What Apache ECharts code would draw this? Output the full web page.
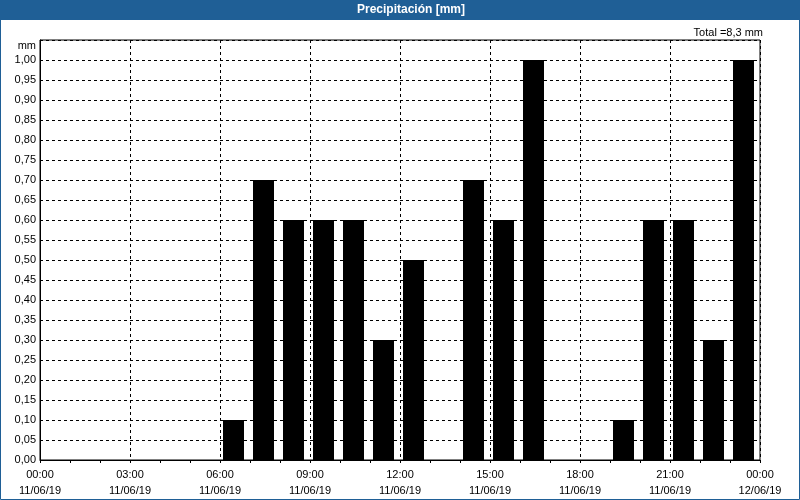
<!DOCTYPE html>
<html>
<head>
<meta charset="utf-8">
<script src="https://cdn.jsdelivr.net/npm/echarts@6/dist/echarts.min.js"></script>
<style>
  html, body { margin: 0; padding: 0; background: #fff; }
  #chart { width: 800px; height: 500px; }
</style>
</head>
<body>
<div id="chart"></div>
<script>
// hourly rain, hour = start of the hour (11/06/19)
const rainHours = [6, 7, 8, 9, 10, 11, 12, 14, 15, 16, 19, 20, 21, 22, 23]
const rainValues = [0.10, 0.70, 0.60, 0.60, 0.60, 0.30, 0.50, 0.70, 0.60, 1.00, 0.10, 0.60, 0.60, 0.30, 1.00]

const timeLabels = ['00:00', '03:00', '06:00', '09:00', '12:00', '15:00', '18:00', '21:00', '00:00']
const dateLabels = ['11/06/19', '11/06/19', '11/06/19', '11/06/19', '11/06/19', '11/06/19', '11/06/19', '11/06/19', '12/06/19']

const titleText = 'Precipitación [mm]'
const unitText = 'mm'

const FONT = 'Liberation Sans'
const BLUE = '#1f5f96'

const total = rainValues.reduce((a, b) => a + b, 0)
const totalText = 'Total =' + total.toFixed(1).replace('.', ',') + ' mm'

const chart = echarts.init(document.getElementById('chart'))

// bar fills 70% of the hour slot, a bit off the left gridline
function renderBar(params, api) {
  const h = api.value(0)
  const v = api.value(1)
  const base = api.coord([h, 0])
  const top = api.coord([h + 1, v])
  const slot = top[0] - base[0]
  return {
    type: 'rect',
    shape: { x: base[0] + slot * 0.1, y: top[1], width: slot * 0.7, height: base[1] - top[1] },
    style: { fill: '#000' }
  }
}

const option = {
  backgroundColor: '#fff',
  animation: false,
  textStyle: { fontFamily: FONT },
  graphic: [
    // window frame + title bar
    { type: 'rect', z: -1, shape: { x: 0.5, y: 0.5, width: 799, height: 499 }, style: { fill: 'transparent', stroke: BLUE, lineWidth: 1 } },
    { type: 'rect', z: -1, shape: { x: 0, y: 0, width: 800, height: 20 }, style: { fill: BLUE } },
    { type: 'text', x: 411, y: 10, style: { text: titleText, fill: '#fff', font: 'bold 12px ' + FONT, align: 'center', verticalAlign: 'middle' } },
    { type: 'text', x: 763, y: 33, style: { text: totalText, fill: '#000', font: '11px ' + FONT, align: 'right', verticalAlign: 'middle' } },
    { type: 'text', x: 36, y: 46, style: { text: unitText, fill: '#000', font: '11px ' + FONT, align: 'right', verticalAlign: 'middle' } }
  ],
  grid: {
    left: 40, right: 40, top: 40, bottom: 40,
    show: true, borderColor: '#000', borderWidth: 1, backgroundColor: '#fff'
  },
  xAxis: {
    type: 'value',
    min: 0, max: 24, interval: 3,
    axisLine: { lineStyle: { color: '#000', width: 1 } },
    axisTick: { show: true, length: 3, lineStyle: { color: '#000' } },
    minorTick: { show: true, splitNumber: 3, length: 3, lineStyle: { color: '#000' } },
    splitLine: { show: true, lineStyle: { color: '#000', type: [3, 3], width: 1 } },
    axisLabel: {
      color: '#000', fontSize: 11, margin: 7, lineHeight: 16,
      formatter: (v) => {
        const i = Math.round(v / 3)
        return timeLabels[i] + '\n' + dateLabels[i]
      }
    }
  },
  yAxis: {
    type: 'value',
    min: 0, max: 1.05, interval: 0.05,
    axisLine: { show: true, lineStyle: { color: '#000', width: 1 } },
    axisTick: { show: false },
    splitLine: { show: true, lineStyle: { color: '#000', type: [3, 3], width: 1 } },
    axisLabel: {
      color: '#000', fontSize: 11, margin: 4,
      formatter: (v) => (v > 1.001 ? '' : v.toFixed(2).replace('.', ','))
    }
  },
  series: [
    {
      type: 'custom',
      renderItem: renderBar,
      encode: { x: 0, y: 1 },
      data: rainHours.map((h, i) => [h, rainValues[i]])
    }
  ]
}

chart.setOption(option)
</script>
</body>
</html>
